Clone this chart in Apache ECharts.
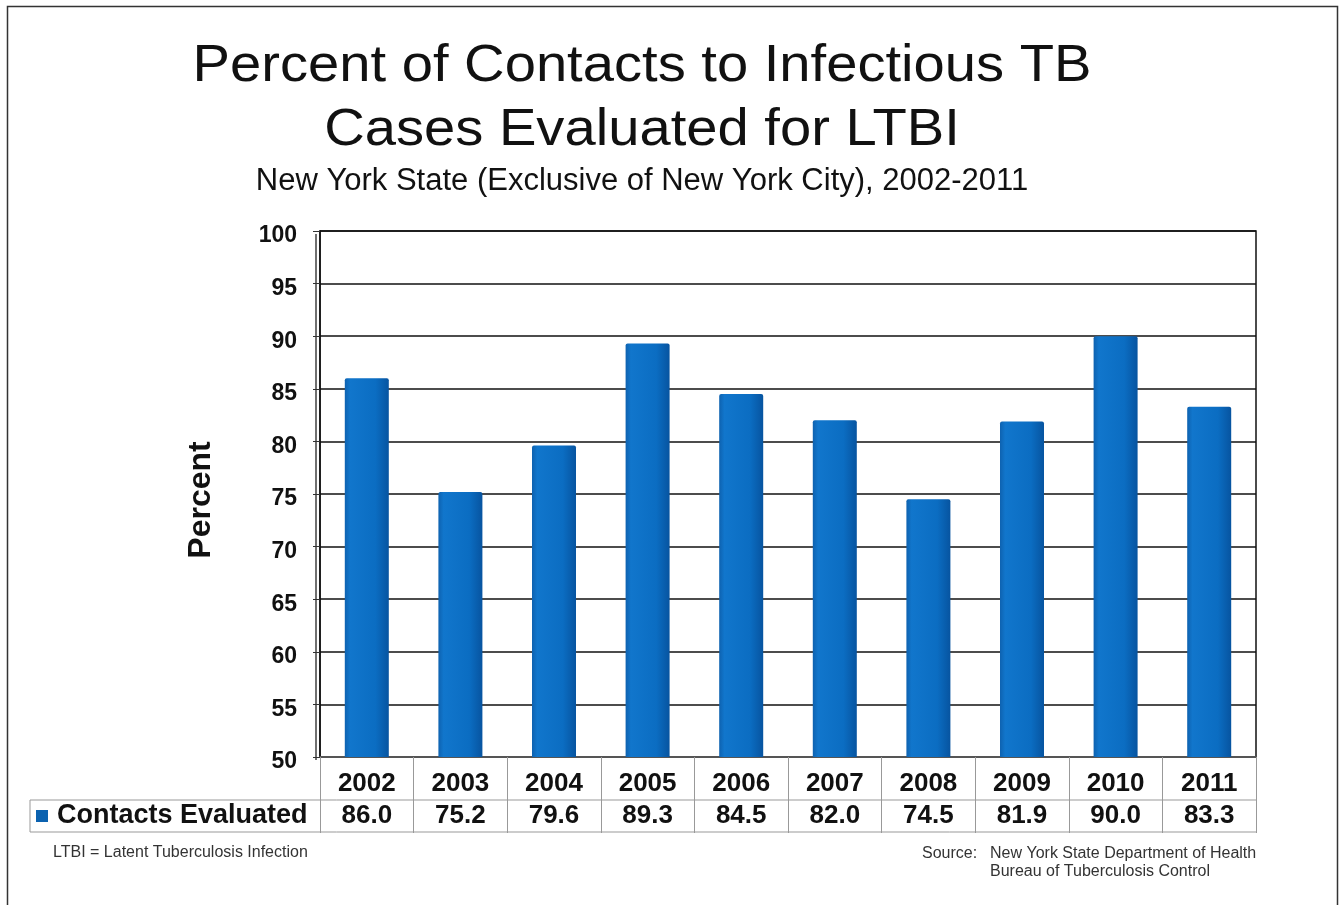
<!DOCTYPE html>
<html>
<head>
<meta charset="utf-8">
<script src="https://cdn.jsdelivr.net/npm/echarts@6/dist/echarts.min.js"></script>
<style>
html,body{margin:0;padding:0;background:#fff;}
#c{width:1340px;height:905px;}
</style>
</head>
<body>
<div id="c"></div>
<script>
var years = ['2002','2003','2004','2005','2006','2007','2008','2009','2010','2011'];
var contactsEvaluated = [86.0, 75.2, 79.6, 89.3, 84.5, 82.0, 74.5, 81.9, 90.0, 83.3];
var seriesName = 'Contacts Evaluated';
var yTicks = [50, 100, 5];

var GL = 320, GR = 84, GT = 231, GB = 148;
var font = '"Liberation Sans", Arial, sans-serif';

var chart = echarts.init(document.getElementById('c'), null, {renderer: 'canvas'});

var option = {
  backgroundColor: '#fff',
  animation: false,
  grid: {left: GL, right: GR, top: GT, bottom: GB, show: true, borderColor: '#111', borderWidth: 1.5, backgroundColor: 'transparent'},
  xAxis: [{
    type: 'category',
    data: years,
    position: 'bottom',
    axisLine: {show: true, lineStyle: {color: '#555', width: 2}},
    axisTick: {show: true, length: 76, lineStyle: {color: '#999', width: 1}},
    axisLabel: {color: '#111', fontFamily: font, fontWeight: 'bold', fontSize: 26, margin: 14}
  }, {
    type: 'category',
    data: contactsEvaluated.map(function (v) { return v.toFixed(1); }),
    position: 'bottom',
    offset: 32,
    axisLine: {show: false},
    axisTick: {show: false},
    axisLabel: {color: '#111', fontFamily: font, fontWeight: 'bold', fontSize: 26, margin: 14}
  }],
  yAxis: {
    type: 'value',
    min: yTicks[0], max: yTicks[1], interval: yTicks[2],
    axisLine: {show: true, lineStyle: {color: '#111', width: 1.5}},
    axisTick: {show: true, length: 7, lineStyle: {color: '#333'}},
    axisLabel: {color: '#111', fontFamily: font, fontWeight: 'bold', fontSize: 23, margin: 23, verticalAlign: 'top', lineHeight: 10},
    splitLine: {show: true, lineStyle: {color: '#111', width: 1.5}}
  },
  series: [{
    name: seriesName,
    type: 'bar',
    xAxisIndex: 0,
    data: contactsEvaluated,
    barWidth: 44,
    itemStyle: {
      borderRadius: [2, 2, 0, 0],
      color: new echarts.graphic.LinearGradient(0, 0, 1, 0, [
        {offset: 0, color: '#0e62b0'},
        {offset: 0.12, color: '#1176cc'},
        {offset: 0.7, color: '#0b6dc2'},
        {offset: 1, color: '#0754a0'}
      ])
    }
  }],
  graphic: [
    {type: 'rect', shape: {x: 7.5, y: 6.5, width: 1330, height: 920}, style: {fill: 'none', stroke: '#333', lineWidth: 1.5}, silent: true},
    {type: 'text', x: 642, y: 41, scaleX: 1.08, style: {text: 'Percent of Contacts to Infectious TB', font: '52px ' + font, fill: '#111', textAlign: 'center'}},
    {type: 'text', x: 642, y: 105, scaleX: 1.08, style: {text: 'Cases Evaluated for LTBI', font: '52px ' + font, fill: '#111', textAlign: 'center'}},
    {type: 'text', x: 642, y: 166, style: {text: 'New York State (Exclusive of New York City), 2002-2011', font: '31px ' + font, fill: '#111', textAlign: 'center'}},
    {type: 'text', x: 201, y: 500, rotation: Math.PI / 2, style: {text: 'Percent', font: 'bold 32px ' + font, fill: '#111', textAlign: 'center', textVerticalAlign: 'middle', verticalAlign: 'middle'}},
    {type: 'line', shape: {x1: 316, y1: 234, x2: 316, y2: 760}, style: {stroke: '#111', lineWidth: 1.2}},
    {type: 'line', shape: {x1: 30, y1: 800, x2: 1256, y2: 800}, style: {stroke: '#999', lineWidth: 1}},
    {type: 'line', shape: {x1: 30, y1: 832, x2: 1256, y2: 832}, style: {stroke: '#999', lineWidth: 1}},
    {type: 'line', shape: {x1: 30, y1: 800, x2: 30, y2: 832}, style: {stroke: '#999', lineWidth: 1}},
    {type: 'rect', shape: {x: 36, y: 810, width: 12, height: 12}, style: {fill: '#0b62b0'}},
    {type: 'text', x: 57, y: 802, style: {text: seriesName, font: 'bold 27px ' + font, fill: '#111'}},
    {type: 'text', x: 53, y: 845, style: {text: 'LTBI = Latent Tuberculosis Infection', font: '16px ' + font, fill: '#333'}},
    {type: 'text', x: 922, y: 846, style: {text: 'Source:', font: '16px ' + font, fill: '#333'}},
    {type: 'text', x: 990, y: 846, style: {text: 'New York State Department of Health', font: '16px ' + font, fill: '#333'}},
    {type: 'text', x: 990, y: 864, style: {text: 'Bureau of Tuberculosis Control', font: '16px ' + font, fill: '#333'}}
  ]
};
chart.setOption(option);
</script>
</body>
</html>
